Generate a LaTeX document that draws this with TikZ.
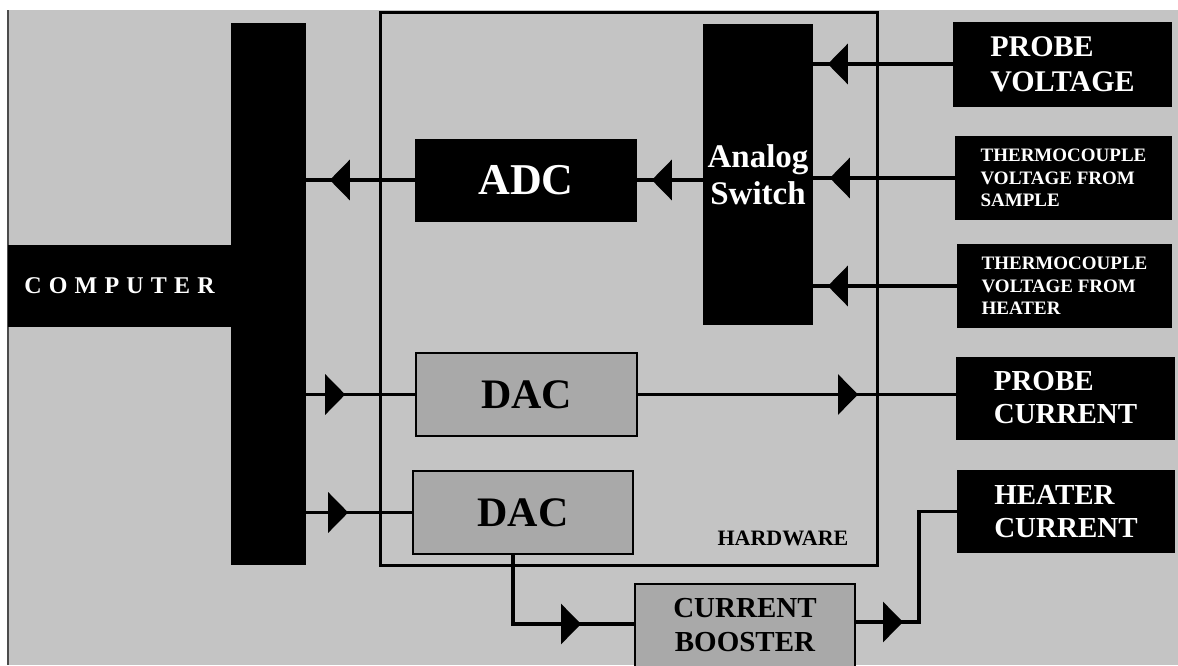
\documentclass[tikz,border=0pt]{standalone}
\usepackage{fontspec}
\setmainfont{Liberation Serif}
\newfontfamily\spacedfont[LetterSpace=30]{Liberation Serif}
\usetikzlibrary{arrows.meta, decorations.markings}
\definecolor{bggray}{HTML}{C4C4C4}
\definecolor{dacgray}{HTML}{A9A9A9}

\tikzset{
  blackbox/.style={fill=black, text=white, inner sep=0pt, font=\bfseries},
  graybox/.style={fill=dacgray, draw=black, line width=2pt, inner sep=0pt, font=\bfseries},
  wire/.style={line width=3.2pt},
  tipat/.style={postaction={decorate},
    decoration={markings, mark=at position #1 with {\arrow{Triangle[length=20pt, width=40pt]}}}}
}

\begin{document}
\begin{tikzpicture}[x=1pt, y=-1pt]
  \useasboundingbox (0,0) rectangle (1178,665);
  \clip (0,0) rectangle (1178,665);

  % background
  \fill[bggray] (8,10) rectangle (1178,665);
  \draw[black!70, line width=1.5pt] (8,10) -- (8,665);

  % hardware frame
  \node[draw, line width=3pt, minimum width=497pt, minimum height=553pt, inner sep=0pt] (hw) at (628.5,288.5) {};
  \node[font=\fontsize{22}{24}\selectfont\bfseries, anchor=base] (hwlabel) at (783,545) {HARDWARE};

  % computer and bus
  \node[blackbox, minimum width=223pt, minimum height=82pt, font=\fontsize{24}{26}\selectfont\spacedfont\bfseries] (comp) at (119.5,286) {COMPUTER};
  \node[blackbox, minimum width=75pt, minimum height=542pt] (bus) at (268.5,294) {};

  % converters
  \node[blackbox, minimum width=222pt, minimum height=83pt, font=\fontsize{44}{46}\selectfont\bfseries] (adc) at (526,180) {ADC};
  \node[blackbox, minimum width=110pt, minimum height=301pt, align=center, font=\fontsize{33}{37}\selectfont\bfseries] (sw) at (758,174.5) {Analog\\Switch};
  \node[graybox, minimum width=221pt, minimum height=83pt, font=\fontsize{42}{44}\selectfont\bfseries] (dac1) at (526.5,394.5) {DAC};
  \node[graybox, minimum width=220pt, minimum height=83pt, font=\fontsize{42}{44}\selectfont\bfseries] (dac2) at (523,512.5) {DAC};
  \node[graybox, minimum width=220pt, minimum height=100pt, font=\fontsize{29}{34}\selectfont\bfseries] (boost) at (745,634)
    {\raisebox{0pt}[0pt][0pt]{\begin{tabular}{@{}c@{}}CURRENT\\BOOSTER\end{tabular}}};

  % inputs and outputs
  \node[blackbox, minimum width=219pt, minimum height=85pt, align=left, font=\fontsize{30}{35}\selectfont\bfseries] (pv) at (1062.5,64) {PROBE\\VOLTAGE};
  \node[blackbox, minimum width=217pt, minimum height=84pt, align=left, font=\fontsize{19}{22.5}\selectfont\bfseries] (tcs) at (1063.5,178) {THERMOCOUPLE\\VOLTAGE FROM\\SAMPLE};
  \node[blackbox, minimum width=215pt, minimum height=84pt, align=left, font=\fontsize{19}{22.5}\selectfont\bfseries] (tch) at (1064.5,286) {THERMOCOUPLE\\VOLTAGE FROM\\HEATER};
  \node[blackbox, minimum width=219pt, minimum height=83pt, align=left, font=\fontsize{29}{33}\selectfont\bfseries] (pcur) at (1065.5,398) {PROBE\\CURRENT};
  \node[blackbox, minimum width=218pt, minimum height=83pt, align=left, font=\fontsize{29}{33}\selectfont\bfseries] (hcur) at (1066,511.5) {HEATER\\CURRENT};

  % signal paths
  \draw[wire, tipat=51pt] (sw.west |- adc.east) -- (adc.east);
  \draw[wire, tipat=85pt] (adc.west) -- (adc.west -| bus.east);
  \draw[wire, tipat=125pt] (pv.west) -- (pv.west -| sw.east);
  \draw[wire, tipat=125pt] (tcs.west) -- (tcs.west -| sw.east);
  \draw[wire, tipat=129pt] (tch.west) -- (tch.west -| sw.east);
  \draw[wire, tipat=39pt] (bus.east |- dac1.west) -- (dac1.west);
  \draw[wire, tipat=42pt] (bus.east |- dac2.west) -- (dac2.west);
  \draw[wire, tipat=220pt] (dac1.east) -- (dac1.east -| pcur.west);
  \draw[wire, tipat=137pt] ([xshift=-10pt]dac2.south) |- ([yshift=10pt]boost.west);
  \draw[wire, tipat=47pt] ([yshift=12pt]boost.east) -- ++(63,0) |- (hcur.west);
\end{tikzpicture}
\end{document}
